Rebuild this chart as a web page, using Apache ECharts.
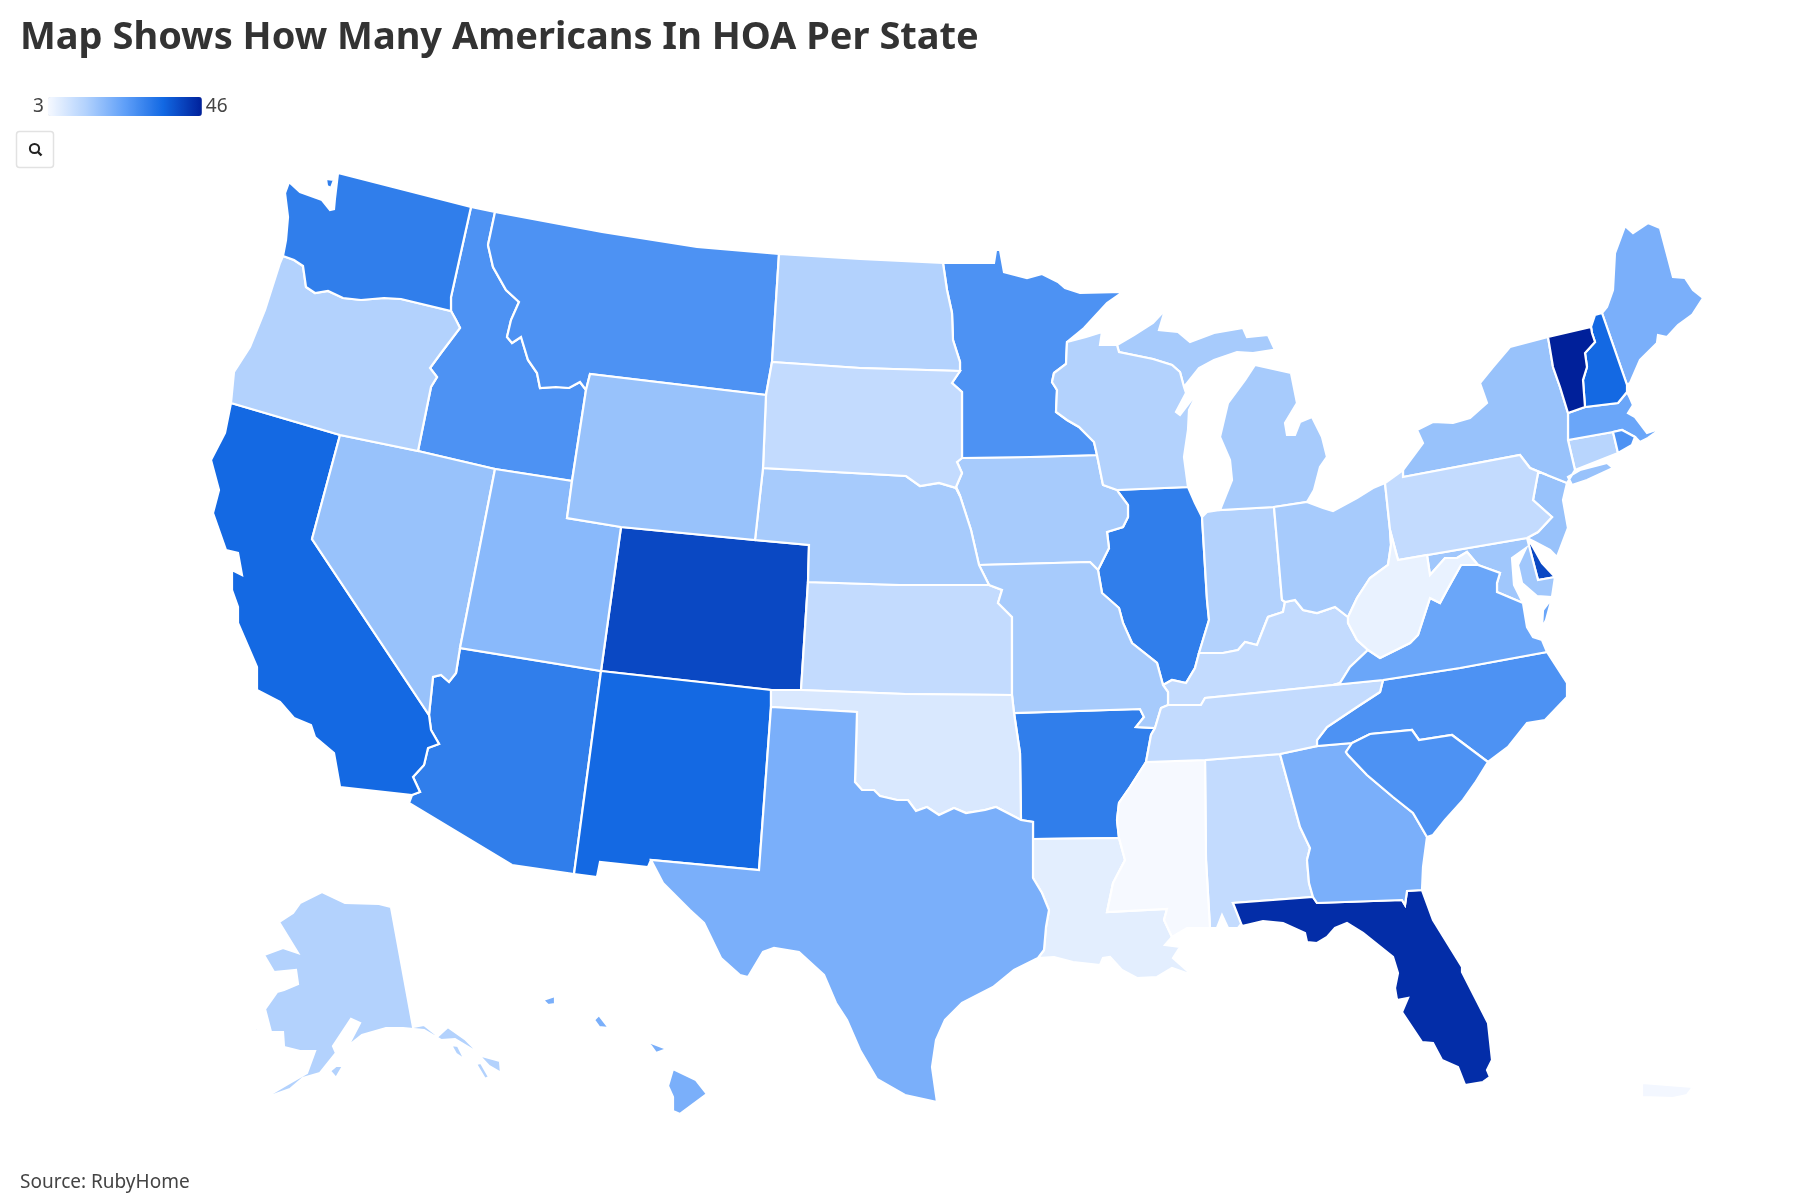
<!DOCTYPE html>
<html lang="en">
  <head>
    <meta charset="UTF-8" />
    <title>Map Shows How Many Americans In HOA Per State</title>
    <script src="https://cdn.jsdelivr.net/npm/echarts@6/dist/echarts.min.js"></script>
    <style>
      html, body { margin: 0; background: #fff; }
    </style>
  </head>
  <body>
    <div id="main" style="width: 1800px; height: 1200px"></div>
    <script type="text/javascript">
      const states = ["Alabama","Alaska","Arizona","Arkansas","California","Colorado","Connecticut","Delaware","Florida","Georgia","Hawaii","Idaho","Illinois","Indiana","Iowa","Kansas","Kentucky","Louisiana","Maine","Maryland","Massachusetts","Michigan","Minnesota","Mississippi","Missouri","Montana","Nebraska","Nevada","New Hampshire","New Jersey","New Mexico","New York","North Carolina","North Dakota","Ohio","Oklahoma","Oregon","Pennsylvania","Puerto Rico","Rhode Island","South Carolina","South Dakota","Tennessee","Texas","Utah","Vermont","Virginia","Washington","West Virginia","Wisconsin","Wyoming"];
      const hoaValues = [11,13.5,31,31,35,40,12.7,40,44,21,21,27,31,13.5,15,11,11,6,21,16,23,15,27,3,15,27,15,17,35,17,35,17,27,13.5,15,7.5,13.5,11,3.5,27,27,11,11,21,19,46,23,31,5,13.5,17];
      const colorStops = ["#f6f9ff","#b1d1fd","#5f9ff8","#1268e3","#00209a"];
      const minValue = 3;
      const maxValue = 46;

      // state outlines, traced as shared border arcs so neighbours line up
      const arcs = {
        waN:"338,173 471,207", waCoast:"283,256 286,240 288,217 285,193 289,182 300,192 322,200 330,210 334,209 335,198 338,173",
        waOr:"283,256 294,260 303,266 306,287 315,293 328,291 343,298 361,300 384,298 401,299 451,311", waId:"471,207 451,297 451,311",
        orCoast:"231,403 234,372 250,347 265,310 280,263 283,256", orId:"418,451 431,387 437,377 430,368 441,353 460,328 456,320 451,311",
        orCa:"231,403 340,435", orNv:"340,435 418,451",
        idN:"471,207 495,212", idMt:"495,212 488,245 493,267 506,290 519,302 511,320 507,337 512,343 521,337 528,360 537,373 540,388 556,387 569,388 580,382 586,390",
        idMt2:"586,390 590,374", idWy:"586,390 572,481", idUt:"495,469 572,481", idNv:"418,451 495,469", idWy2:"572,481 567,518",
        mtN:"495,212 602,232 697,247 779,254", mtNd:"779,254 772,362", mtSd:"772,362 766,395", mtWy:"590,374 766,395",
        wySd:"766,395 763,468", wyNe:"763,468 755,540", wyCo:"621,527 755,540", wyUt:"567,518 621,527",
        ndN:"779,254 860,259 943,263", ndMn:"943,263 947,290 952,313 953,340 960,362 960,371", ndSd:"772,362 860,368 960,371",
        sdMn:"960,371 952,383 962,392 962,458", sdIa:"962,458 957,462 962,473 956,487 960,496", sdNe:"763,468 906,476 920,486 939,483 956,488 960,496",
        mnTop:"943,263 994,263 996,250 1000,250 1004,272 1027,278 1042,274 1058,282 1065,288 1080,293 1123,292 1107,303 1084,328 1067,342",
        mnWi:"1067,342 1066,364 1054,373 1052,382 1057,390 1056,412 1067,420 1079,427 1094,442 1097,455", mnIa:"962,458 1030,457 1097,455",
        wiSup:"1067,342 1086,337 1102,332 1100,345 1117,345", wiMi:"1117,345 1119,352 1153,359 1172,365 1180,372 1184,387",
        wiLake:"1184,387 1186,393 1176,412 1180,415 1199,390 1189,410 1188,430 1184,457 1188,487", wiIl:"1117,490 1188,487", wiIa:"1097,455 1100,470 1103,485 1117,490",
        upShore:"1117,345 1134,335 1153,323 1165,310 1159,330 1178,332 1190,342 1214,333 1243,328 1247,337 1268,335 1274,348 1285,348 1253,353 1237,352 1214,360 1199,368 1184,387",
        miShore:"1255,365 1291,373 1297,403 1285,423 1287,435 1295,435 1300,422 1312,417 1322,437 1327,457 1320,467 1314,490 1307,502",
        miOh:"1307,502 1274,507", miIn:"1274,507 1220,510", miLake:"1220,510 1232,480 1230,460 1220,437 1228,403 1245,380 1255,365",
        iaIl:"1117,490 1119,493 1128,505 1128,517 1123,527 1107,532 1109,548 1102,562 1098,570", iaMo:"979,565 1090,562 1098,570", iaNe:"960,496 971,530 979,565",
        neMo:"979,565 989,585", neKs:"808,582 900,585 989,585", neCo1:"755,540 809,545", neCo2:"809,545 808,582",
        ksMo:"989,585 1002,590 998,603 1012,617 1012,640 1012,695", ksOk:"801,690 905,694 1012,695", ksCo:"808,582 801,690",
        coUt:"621,527 601,671", coNm:"601,671 700,682 771,690", coOk:"771,690 801,690",
        utNv:"495,469 460,648", utAz:"460,648 601,671", nvCa:"340,435 312,539 429,715", nvAz:"429,715 433,677 441,675 449,682 456,673 460,648",
        caCoast:"231,403 225,433 211,460 219,490 213,513 226,550 238,553 242,575 232,570 232,590 238,607 238,623 257,667 257,690 280,702 294,718 311,725 315,737 334,753 340,787",
        caS:"340,787 412,795", caAz:"412,795 420,792 413,777 424,765 428,748 439,744 431,730 429,715",
        azS:"412,795 409,803 512,865 574,874", nmAz:"601,671 574,874",
        nmTx:"771,707 759,870 651,860", nmMex:"651,860 648,867 600,862 597,877 574,874", nmOk:"771,690 771,707",
        okTx:"771,707 857,712 855,782 862,790 874,790 880,796 897,800 908,800 916,811 927,807 939,815 954,808 966,813 985,810 996,807 1021,820",
        okAr:"1014,713 1020,753 1021,820", okMo:"1012,695 1014,713",
        txAr:"1021,820 1033,822", arTxE:"1033,822 1033,839", txLa:"1033,839 1033,878 1042,893 1049,910 1046,927 1044,950 1038,958",
        txCoast:"1038,958 1014,970 993,987 962,1003 945,1020 936,1040 932,1067 937,1102 905,1095 877,1079 860,1050 847,1020 836,1003 824,975 799,952 774,948 763,952 748,977 740,975 721,958 704,923 690,910 663,883 651,860",
        arMo:"1014,713 1140,709 1144,717 1136,727 1155,728", moIl:"1098,570 1102,593 1119,608 1123,623 1132,643 1157,663 1163,685",
        moKy:"1163,685 1168,692 1168,705", moTn:"1168,705 1161,708 1155,728", arTn:"1155,728 1151,735 1146,762",
        arMs:"1146,762 1130,787 1119,803 1117,820 1119,838", arLa:"1033,839 1119,838",
        msLa:"1119,838 1125,860 1113,883 1107,912 1167,909 1164,920 1172,937",
        laCoast:"1172,937 1165,945 1180,947 1173,958 1192,975 1172,968 1157,977 1137,978 1122,970 1110,957 1103,958 1100,965 1073,962 1054,957 1038,958",
        tnMs:"1146,762 1205,760", msAl:"1205,760 1206,860 1210,928", msCoast:"1210,928 1187,928 1172,937",
        tnAl:"1205,760 1280,754", alGa:"1280,754 1300,827 1310,848 1307,860 1309,883 1313,897", alFl:"1233,903 1313,897", alCoast:"1233,903 1242,923 1238,928 1228,928 1222,915 1217,928 1210,928",
        tnKy:"1168,705 1201,705 1205,698 1265,692 1333,685", tnVa:"1333,685 1383,680", tnNc:"1383,680 1380,692 1357,707 1327,727 1317,740 1317,746", tnGa:"1280,754 1317,746",
        kyIl:"1199,653 1195,668 1186,683 1172,680 1163,685", kyIn:"1199,653 1223,653 1238,650 1245,642 1257,645 1268,617 1283,612 1285,602",
        kyOh:"1285,602 1295,600 1303,610 1317,613 1335,607 1348,617", kyWv:"1348,617 1348,623 1357,640 1368,650", kyVa:"1368,650 1350,667 1340,683 1333,685",
        ilIn:"1202,517 1207,600 1209,620 1199,653", ilLake:"1188,487 1195,503 1202,517", inLake:"1202,517 1207,512 1220,510", inOh:"1274,507 1282,600 1285,602",
        ohLake:"1307,502 1323,508 1333,511 1357,498 1373,488 1385,483", ohPa:"1385,483 1390,530", ohWv:"1390,530 1391,545 1388,565 1370,578 1357,598 1348,617",
        paErie:"1385,483 1403,470", paNy:"1403,470 1403,477 1520,455 1530,468 1542,473", paNj:"1542,473 1538,473 1533,500 1552,517 1538,532 1527,538",
        paMd:"1398,560 1527,538", paWv:"1390,530 1398,560",
        nyLake:"1403,470 1423,443 1417,430 1433,422 1453,423 1470,418 1487,403 1480,383 1493,367 1510,347 1548,337", nyVt:"1548,337 1553,367 1560,387 1568,413",
        nyMa:"1568,413 1568,440", nyCt:"1568,440 1575,470", nyCoast:"1575,470 1567,483", nyNj:"1542,473 1567,483",
        njCoast:"1567,483 1563,500 1568,528 1557,557 1550,550 1535,542 1527,538",
        deMd:"1527,538 1538,580", deS:"1538,580 1555,577", deCoast:"1555,577 1542,563 1533,547 1527,538",
        mdCoast:"1555,577 1552,597 1537,596 1522,583 1518,565 1526,548 1512,558 1514,585 1523,603", mdVa:"1523,603 1497,592 1497,583 1500,573 1478,565",
        mdWv:"1478,565 1467,552 1457,558 1445,558 1430,575 1427,555 1398,560",
        wvVa:"1478,565 1461,565 1447,590 1440,603 1430,598 1418,635 1410,643 1380,658 1368,650",
        vaBay:"1523,603 1527,627 1533,637 1542,640 1547,652", vaNc:"1383,680 1460,668 1547,652",
        ncCoast:"1547,652 1567,683 1567,697 1545,720 1527,723 1508,747 1488,762", ncSc:"1352,743 1370,734 1412,730 1419,740 1452,735 1488,762", ncGa:"1317,746 1352,743",
        scCoast:"1488,762 1475,783 1463,800 1445,820 1433,835 1427,837", scGa:"1427,837 1413,813 1393,797 1367,775 1348,755 1346,752 1352,743",
        gaCoast:"1427,837 1423,867 1422,890", gaFl:"1422,890 1407,891 1405,905 1402,900 1317,903 1313,897",
        flCoast:"1422,890 1433,920 1462,967 1462,972 1488,1023 1492,1060 1487,1070 1490,1077 1483,1082 1465,1085 1458,1067 1442,1060 1433,1043 1422,1042 1402,1012 1408,998 1397,1000 1395,988 1398,973 1393,957 1363,933 1347,923 1335,928 1327,937 1317,943 1307,942 1305,933 1283,923 1263,921 1242,926 1233,903",
        vtCan:"1548,337 1591,327", vtNh:"1591,327 1592,333 1595,342 1585,353 1587,367 1583,380 1585,407", vtMa:"1568,413 1585,407",
        nhCan:"1591,327 1595,315 1602,313", nhMe:"1602,313 1627,385", nhCoast:"1627,385 1627,392", nhMa:"1585,407 1618,403 1627,392",
        meShore:"1602,313 1607,307 1613,290 1615,253 1625,226 1633,233 1648,223 1660,228 1673,277 1685,278 1693,290 1703,298 1692,315 1678,325 1667,337 1658,335 1657,343 1640,360 1630,383 1627,385",
        maCoast:"1627,392 1630,398 1633,405 1628,413 1635,417 1647,433 1662,428 1648,438 1640,442 1635,437", maRi:"1635,437 1622,430 1613,432", maCt:"1613,432 1568,440",
        riCt:"1613,432 1618,453", riCoast:"1618,453 1632,445 1635,437", ctCoast:"1618,453 1575,470"
      };

      const rings = {
        Washington:["waN waId -waOr waCoast"], Oregon:["waOr -orId -orNv -orCa orCoast"],
        Idaho:["idN idMt idWy -idUt -idNv orId -waId"], Montana:["mtN mtNd mtSd -mtWy -idMt2 -idMt"],
        Wyoming:["mtWy wySd wyNe -wyCo -wyUt -idWy2 -idWy idMt2"], "North Dakota":["ndN ndMn -ndSd -mtNd"],
        "South Dakota":["ndSd sdMn sdIa -sdNe -wySd -mtSd"], Minnesota:["mnTop mnWi -mnIa -sdMn -ndMn"],
        Wisconsin:["wiSup wiMi wiLake -wiIl -wiIa -mnWi"], Michigan:["upShore -wiMi","miShore miOh miIn miLake"],
        Iowa:["mnIa wiIa iaIl -iaMo -iaNe -sdIa"], Nebraska:["sdNe iaNe neMo -neKs -neCo2 -neCo1 -wyNe"],
        Kansas:["neKs ksMo -ksOk -ksCo"], Colorado:["wyCo neCo1 neCo2 ksCo -coOk -coNm -coUt"],
        Utah:["idUt idWy2 wyUt coUt -utAz -utNv"], Nevada:["orNv idNv utNv -nvAz -nvCa"],
        California:["caCoast caS caAz -nvCa -orCa"], Arizona:["nvAz utAz nmAz -azS caAz"],
        "New Mexico":["coNm nmOk nmTx nmMex -nmAz"], Oklahoma:["coOk ksOk okMo okAr -okTx -nmOk"],
        Texas:["okTx txAr arTxE txLa txCoast -nmTx"], Missouri:["iaMo moIl moKy moTn -arMo -okMo -ksMo -neMo"],
        Arkansas:["arMo arTn arMs -arLa -arTxE -txAr -okAr"], Louisiana:["arLa msLa laCoast -txLa"],
        Mississippi:["tnMs msAl msCoast -msLa -arMs"], Alabama:["tnAl alGa -alFl alCoast -msAl"],
        Tennessee:["tnKy tnVa tnNc -tnGa -tnAl -tnMs -arTn -moTn"], Kentucky:["kyIn kyOh kyWv kyVa -tnKy -moKy -kyIl"],
        Illinois:["wiIl ilLake ilIn kyIl -moIl -iaIl"], Indiana:["inLake -miIn inOh -kyIn -ilIn"],
        Ohio:["-miOh ohLake ohPa ohWv -kyOh -inOh"], Pennsylvania:["paErie paNy paNj -paMd -paWv -ohPa"],
        "New York":["nyLake nyVt nyMa nyCt nyCoast -nyNj -paNy"], "New Jersey":["nyNj njCoast -paNj"],
        Delaware:["deMd deS deCoast"], Maryland:["paMd deMd deS mdCoast mdVa mdWv"],
        "West Virginia":["paWv -mdWv wvVa -kyWv -ohWv"], Virginia:["-mdVa vaBay -vaNc -tnVa -kyVa -wvVa"],
        "North Carolina":["vaNc ncCoast -ncSc -ncGa -tnNc"], "South Carolina":["ncSc scCoast scGa"],
        Georgia:["tnGa ncGa -scGa gaCoast gaFl -alGa"], Florida:["alFl -gaFl flCoast"],
        Vermont:["vtCan vtNh -vtMa -nyVt"], "New Hampshire":["nhCan nhMe nhCoast -nhMa -vtNh"],
        Maine:["meShore -nhMe"], Massachusetts:["vtMa nhMa maCoast maRi maCt -nyMa"],
        "Rhode Island":["riCt riCoast maRi"], Connecticut:["-maCt riCt ctCoast -nyCt"]
      };

      // islands and pieces that touch nothing
      const loosePieces = {
        Washington:["326,179 334,180 331,188 327,186"],
        "New York":["1568,477 1580,470 1607,463 1613,468 1587,480 1572,485"],
        Virginia:["1552,598 1543,610 1542,628 1546,620"],
        Florida:["1447,1108 1455,1103 1460,1103 1452,1107"],
        Alaska:[
          "391,907 413,1027 424,1025 438,1036 448,1027 465,1039 482,1056 500,1061 501,1073 489,1066 475,1051 455,1039 441,1040 424,1030 403,1028 386,1028 362,1035 348,1046 360,1023 351,1019 333,1046 336,1053 320,1073 303,1078 290,1089 276,1094 259,1101 286,1085 307,1073 315,1051 300,1051 284,1047 283,1032 271,1032 265,1009 277,992 284,990 298,984 296,970 274,972 264,955 283,948 298,953 279,922 293,913 300,903 322,892 345,903 379,904",
          "330,1071 336,1078 343,1066 336,1066", "253,1028 259,1028 257,1031",
          "451,1045 458,1046 465,1060 456,1054", "476,1064 481,1063 489,1077 485,1079"
        ],
        Hawaii:[
          "543,1000 555,996 555,1004 548,1005", "594,1020 599,1015 609,1028 599,1027", "627,1034 641,1035 641,1037 627,1036",
          "646,1041 667,1049 656,1053 651,1046", "635,1044 638,1045 637,1048",
          "673,1069 696,1080 707,1094 680,1114 673,1111 673,1097 668,1086"
        ],
        "Puerto Rico":["1642,1083 1693,1087 1687,1095 1673,1098 1642,1097"]
      };

      const parsePts = (s) => s.split(" ").map((p) => p.split(",").map(Number));

      function buildRing(spec) {
        let pts = [];
        spec.split(" ").forEach((name) => {
          const rev = name[0] === "-";
          const line = parsePts(arcs[rev ? name.slice(1) : name]);
          pts = pts.concat(rev ? line.reverse() : line);
        });
        pts.push(pts[0]);
        return pts;
      }

      function closed(s) {
        const pts = parsePts(s);
        pts.push(pts[0]);
        return pts;
      }

      const features = states.map((name) => {
        const polys = (rings[name] || []).map((r) => [buildRing(r)])
          .concat((loosePieces[name] || []).map((r) => [closed(r)]));
        return {
          type: "Feature",
          properties: { name },
          geometry: { type: "MultiPolygon", coordinates: polys }
        };
      });

      echarts.registerMap("usa", { type: "FeatureCollection", features });

      let minX = 1e9, minY = 1e9, maxX = -1e9, maxY = -1e9;
      features.forEach((f) => f.geometry.coordinates.forEach((poly) => poly[0].forEach(([x, y]) => {
        minX = Math.min(minX, x); maxX = Math.max(maxX, x);
        minY = Math.min(minY, y); maxY = Math.max(maxY, y);
      })));

      let myChart = echarts.init(document.getElementById("main"));

      myChart.setOption({
        animation: false,
        backgroundColor: "#fff",
        title: [
          {
            text: "Map Shows How Many Americans In HOA Per State",
            left: 15,
            top: 14,
            textStyle: { fontFamily: "Noto Sans", fontSize: 38, fontWeight: 700, color: "#333" }
          },
          {
            text: "Source: RubyHome",
            left: 15,
            top: 1168,
            textStyle: { fontFamily: "Noto Sans", fontSize: 19, fontWeight: 400, color: "#444" }
          }
        ],
        visualMap: {
          type: "continuous",
          min: minValue,
          max: maxValue,
          orient: "horizontal",
          left: 18,
          top: 82,
          itemWidth: 19,
          itemHeight: 154,
          text: [String(maxValue), String(minValue)],
          textGap: 4,
          textStyle: { fontFamily: "Noto Sans", fontSize: 19, color: "#444" },
          calculable: false,
          inRange: { color: colorStops }
        },
        series: [
          {
            type: "map",
            map: "usa",
            projection: { project: (p) => p, unproject: (p) => p },
            left: minX,
            top: minY,
            width: maxX - minX,
            height: maxY - minY,
            aspectScale: 1,
            roam: false,
            silent: true,
            label: { show: false },
            itemStyle: { borderColor: "#fff", borderWidth: 2.2 },
            data: states.map((name, i) => ({ name, value: hoaValues[i] }))
          }
        ],
        graphic: [
          {
            type: "rect",
            shape: { x: 16.5, y: 131.5, width: 37, height: 36, r: 3 },
            style: { fill: "#fff", stroke: "#e2e2e2", lineWidth: 1.5 }
          },
          {
            type: "circle",
            shape: { cx: 34.5, cy: 148.5, r: 4.6 },
            style: { fill: "none", stroke: "#222", lineWidth: 2 }
          },
          {
            type: "line",
            shape: { x1: 38, y1: 152, x2: 41.5, y2: 155.5 },
            style: { stroke: "#222", lineWidth: 2.4 }
          }
        ]
      });
    </script>
  </body>
</html>
